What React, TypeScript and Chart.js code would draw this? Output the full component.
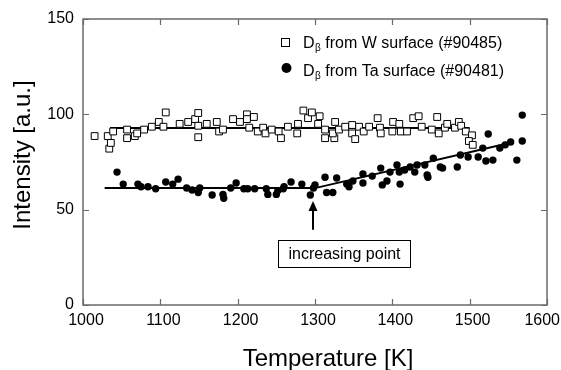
import React, { useEffect, useRef } from "react";
import { Chart, registerables } from "chart.js";

Chart.register(...registerables);

const FONT = "'Liberation Sans', Arial, Helvetica, sans-serif";

const xMin = 1000;
const xMax = 1600;
const xStep = 100;
const yMin = 0;
const yMax = 150;
const yStep = 50;

const xTitle = "Temperature [K]";
const yTitle = "Intensity [a.u.]";

// D_beta from W surface (#90485) — open squares
const wTemp = [
  1015, 1032, 1034, 1036, 1039, 1057, 1057, 1067, 1070, 1079, 1089, 1098, 1104, 1107, 1125, 1136,
  1145, 1149, 1149, 1149, 1160, 1173, 1176, 1181, 1194, 1203, 1212, 1212, 1221, 1215, 1226, 1233,
  1236, 1244, 1253, 1256, 1265, 1277, 1278, 1285, 1291, 1296, 1306, 1304, 1313, 1313, 1325, 1323,
  1326, 1331, 1339, 1348, 1348, 1352, 1357, 1363, 1370, 1381, 1384, 1385, 1400, 1401, 1409, 1411,
  1419, 1427, 1434, 1438, 1451, 1458, 1460, 1468, 1471, 1481, 1486, 1489, 1495, 1503, 1499, 1504,
];
const wInt = [
  88.6, 88.6, 82, 85, 91, 92, 87.5, 88.6, 90, 92, 93.5, 96, 93.5, 101, 95, 96,
  97.5, 88, 100.7, 94, 95, 96, 91, 92, 97.5, 96, 100, 97.5, 98.6, 93, 91, 93,
  90, 92, 91, 87.5, 93.5, 90, 95, 102, 98, 101, 99, 95, 92, 87.5, 87.5, 90,
  96, 92, 93.5, 94.4, 90, 87, 93.5, 91, 93.5, 98, 93, 90, 91, 96, 95, 91,
  91, 98, 99, 93.5, 92, 98.6, 90, 93, 95, 93, 96, 94, 91, 89, 86, 84,
];

// D_beta from Ta surface (#90481) — filled circles
const taTemp = [
  1044, 1052, 1071, 1075, 1084, 1094, 1107, 1116, 1123, 1134, 1141, 1149, 1151, 1167, 1181, 1182,
  1191, 1198, 1208, 1213, 1222, 1237, 1239, 1250, 1252, 1259, 1260, 1269, 1283, 1294, 1298, 1300,
  1313, 1315, 1323, 1328, 1341, 1344, 1349, 1362, 1362, 1374, 1385, 1387, 1393, 1397, 1406, 1410,
  1409, 1416, 1423, 1429, 1432, 1442, 1445, 1446, 1453, 1462, 1465, 1484, 1488, 1498, 1511, 1517,
  1521, 1524, 1530, 1539, 1546, 1553, 1561, 1568, 1568,
];
const taInt = [
  69.7, 63.4, 63.4, 62, 62, 61, 64.5, 63.4, 66, 61.4, 60.3, 59, 61.4, 57.7, 58, 56,
  61.4, 64, 61, 61, 61, 61, 58, 58, 60, 61, 62, 64.5, 63.4, 57.7, 61.4, 63,
  67, 59, 59, 66.6, 63.4, 62, 65, 68.7, 64, 67.6, 71.8, 63, 65, 69.7, 73.4, 63.4,
  69.7, 70.8, 72.4, 69.7, 73.4, 73.4, 68.2, 67, 77, 72.4, 71.8, 72.4, 78.7, 77.6, 77.6, 82.3,
  75.5, 89.7, 76, 82.3, 84, 85.5, 76, 86, 99.6,
];

// Fit lines
const wFitTemp = [1035, 1500];
const wFitInt = [92.8, 92.8];
const taFitTemp = [1028, 1300, 1557];
const taFitInt = [61.3, 61.3, 85.5];

// Legend
const legendMain = "D";
const legendSub = "\u03b2";
const legendLabels = [" from W surface (#90485)", " from Ta surface (#90481)"];

// Annotation
const annotationText = "increasing point";
const arrowTemp = 1297;
const arrowTipInt = 54.5;
const arrowBaseInt = 39.5;
const boxTemp = [1252, 1423];
const boxInt = [20, 34];

const toPts = (xs: number[], ys: number[]) => xs.map((x, i) => ({ x, y: ys[i] }));

const decor = {
  id: "decor",
  afterDraw(chart: any) {
    const ctx = chart.ctx as CanvasRenderingContext2D;
    const { left, right, top, bottom } = chart.chartArea;
    const xs = chart.scales.x;
    const ys = chart.scales.y;
    ctx.save();
    // frame
    ctx.strokeStyle = "#6a6a6a";
    ctx.lineWidth = 1.5;
    ctx.strokeRect(left, top, right - left, bottom - top);
    // ticks
    const tl = 6;
    ctx.beginPath();
    for (let v = xMin; v <= xMax; v += xStep) {
      const px = Math.round(xs.getPixelForValue(v)) + 0.5;
      ctx.moveTo(px, bottom);
      ctx.lineTo(px, bottom - tl);
      ctx.moveTo(px, top);
      ctx.lineTo(px, top + tl);
    }
    for (let v = yMin; v <= yMax; v += yStep) {
      const py = Math.round(ys.getPixelForValue(v)) + 0.5;
      ctx.moveTo(left, py);
      ctx.lineTo(left + tl, py);
      ctx.moveTo(right, py);
      ctx.lineTo(right - tl, py);
    }
    ctx.lineWidth = 1.2;
    ctx.stroke();

    // x tick labels
    ctx.fillStyle = "#000";
    ctx.font = `16px ${FONT}`;
    ctx.textAlign = "center";
    ctx.textBaseline = "top";
    const cw = chart.width;
    for (let v = xMin; v <= xMax; v += xStep) {
      const label = String(v);
      const w = ctx.measureText(label).width;
      let cx = xs.getPixelForValue(v) + 3;
      if (cx + w / 2 > cw - 1) cx = cw - 1 - w / 2;
      ctx.fillText(label, cx, bottom + 8);
    }

    // axis titles
    ctx.font = `24px ${FONT}`;
    ctx.textAlign = "center";
    ctx.textBaseline = "middle";
    ctx.fillText(xTitle, 328, 359);
    ctx.save();
    ctx.translate(23, 155);
    ctx.rotate(-Math.PI / 2);
    ctx.fillText(yTitle, 0, 0);
    ctx.restore();

    // legend
    const lx = 285;
    const rows = [42, 68];
    ctx.fillStyle = "#fff";
    ctx.strokeStyle = "#000";
    ctx.lineWidth = 1;
    ctx.fillRect(lx - 3.5, rows[0] - 3.5, 8, 8);
    ctx.strokeRect(lx - 3.5, rows[0] - 3.5, 8, 8);
    ctx.fillStyle = "#000";
    ctx.beginPath();
    ctx.arc(lx + 1.5, rows[1], 5, 0, Math.PI * 2);
    ctx.fill();
    ctx.textAlign = "left";
    ctx.textBaseline = "alphabetic";
    const baselines = [48, 76];
    legendLabels.forEach((lab, i) => {
      let x = 303;
      ctx.font = `16px ${FONT}`;
      ctx.fillText(legendMain, x, baselines[i]);
      x += ctx.measureText(legendMain).width;
      ctx.font = `10px ${FONT}`;
      ctx.fillText(legendSub, x + 0.5, baselines[i] + 3);
      x += ctx.measureText(legendSub).width + 0.5;
      ctx.font = `16px ${FONT}`;
      ctx.fillText(lab, x, baselines[i]);
    });

    // annotation arrow
    const ax = Math.round(xs.getPixelForValue(arrowTemp));
    const tipY = ys.getPixelForValue(arrowTipInt);
    const baseY = ys.getPixelForValue(arrowBaseInt);
    ctx.strokeStyle = "#000";
    ctx.lineWidth = 2;
    ctx.beginPath();
    ctx.moveTo(ax, baseY);
    ctx.lineTo(ax, tipY + 8);
    ctx.stroke();
    ctx.beginPath();
    ctx.moveTo(ax, tipY);
    ctx.lineTo(ax - 4.5, tipY + 10);
    ctx.lineTo(ax + 4.5, tipY + 10);
    ctx.closePath();
    ctx.fill();

    // annotation box
    const bx0 = Math.round(xs.getPixelForValue(boxTemp[0])) + 0.5;
    const bx1 = Math.round(xs.getPixelForValue(boxTemp[1])) + 0.5;
    const by0 = Math.round(ys.getPixelForValue(boxInt[1])) + 0.5;
    const by1 = Math.round(ys.getPixelForValue(boxInt[0])) + 0.5;
    ctx.lineWidth = 1;
    ctx.fillStyle = "#fff";
    ctx.fillRect(bx0, by0, bx1 - bx0, by1 - by0);
    ctx.strokeRect(bx0, by0, bx1 - bx0, by1 - by0);
    ctx.fillStyle = "#000";
    ctx.font = `16px ${FONT}`;
    ctx.textAlign = "center";
    ctx.textBaseline = "middle";
    ctx.fillText(annotationText, (bx0 + bx1) / 2, (by0 + by1) / 2 + 1);
    ctx.restore();
  },
};

export default function App() {
  const ref = useRef<HTMLCanvasElement | null>(null);
  useEffect(() => {
    if (!ref.current) return;
    const chart = new Chart(ref.current, {
      type: "scatter",
      data: {
        datasets: [
          {
            label: "W",
            data: toPts(wTemp, wInt),
            pointStyle: "rect",
            pointRadius: 4.8,
            backgroundColor: "#fff",
            borderColor: "#000",
            borderWidth: 1,
            order: 0,
          },
          {
            label: "Ta",
            data: toPts(taTemp, taInt),
            pointStyle: "circle",
            pointRadius: 3.7,
            backgroundColor: "#000",
            borderColor: "#000",
            borderWidth: 0,
            order: 0,
          },
          {
            type: "line",
            label: "W fit",
            data: toPts(wFitTemp, wFitInt),
            showLine: true,
            pointRadius: 0,
            borderColor: "#000",
            borderWidth: 2,
            order: 1,
          },
          {
            type: "line",
            label: "Ta fit",
            data: toPts(taFitTemp, taFitInt),
            showLine: true,
            pointRadius: 0,
            borderColor: "#000",
            borderWidth: 2,
            order: 1,
          },
        ],
      } as any,
      options: {
        responsive: false,
        animation: false,
        layout: { padding: { top: 19, right: 14, left: 0, bottom: 0 } },
        plugins: { legend: { display: false }, tooltip: { enabled: false } },
        scales: {
          x: {
            type: "linear",
            min: xMin,
            max: xMax,
            grid: { display: false, drawTicks: false },
            border: { display: false },
            ticks: { stepSize: xStep, display: false },
            afterFit(scale: any) {
              scale.height = 65;
              scale.paddingLeft = 0;
              scale.paddingRight = 0;
            },
          },
          y: {
            type: "linear",
            min: yMin,
            max: yMax,
            grid: { display: false, drawTicks: false },
            border: { display: false },
            ticks: {
              stepSize: yStep,
              color: "#000",
              font: { size: 16, family: FONT },
              padding: 9,
              callback: (v: any) => String(v),
            },
            afterFit(scale: any) {
              scale.width = 83;
              scale.paddingTop = 0;
              scale.paddingBottom = 0;
            },
          },
        },
      } as any,
      plugins: [decor],
    });
    return () => chart.destroy();
  }, []);
  return (
    <div style={{ position: "absolute", left: 0, top: 0, width: 561, height: 370, background: "#fff" }}>
      <canvas ref={ref} width={561} height={370} style={{ display: "block" }} />
    </div>
  );
}
